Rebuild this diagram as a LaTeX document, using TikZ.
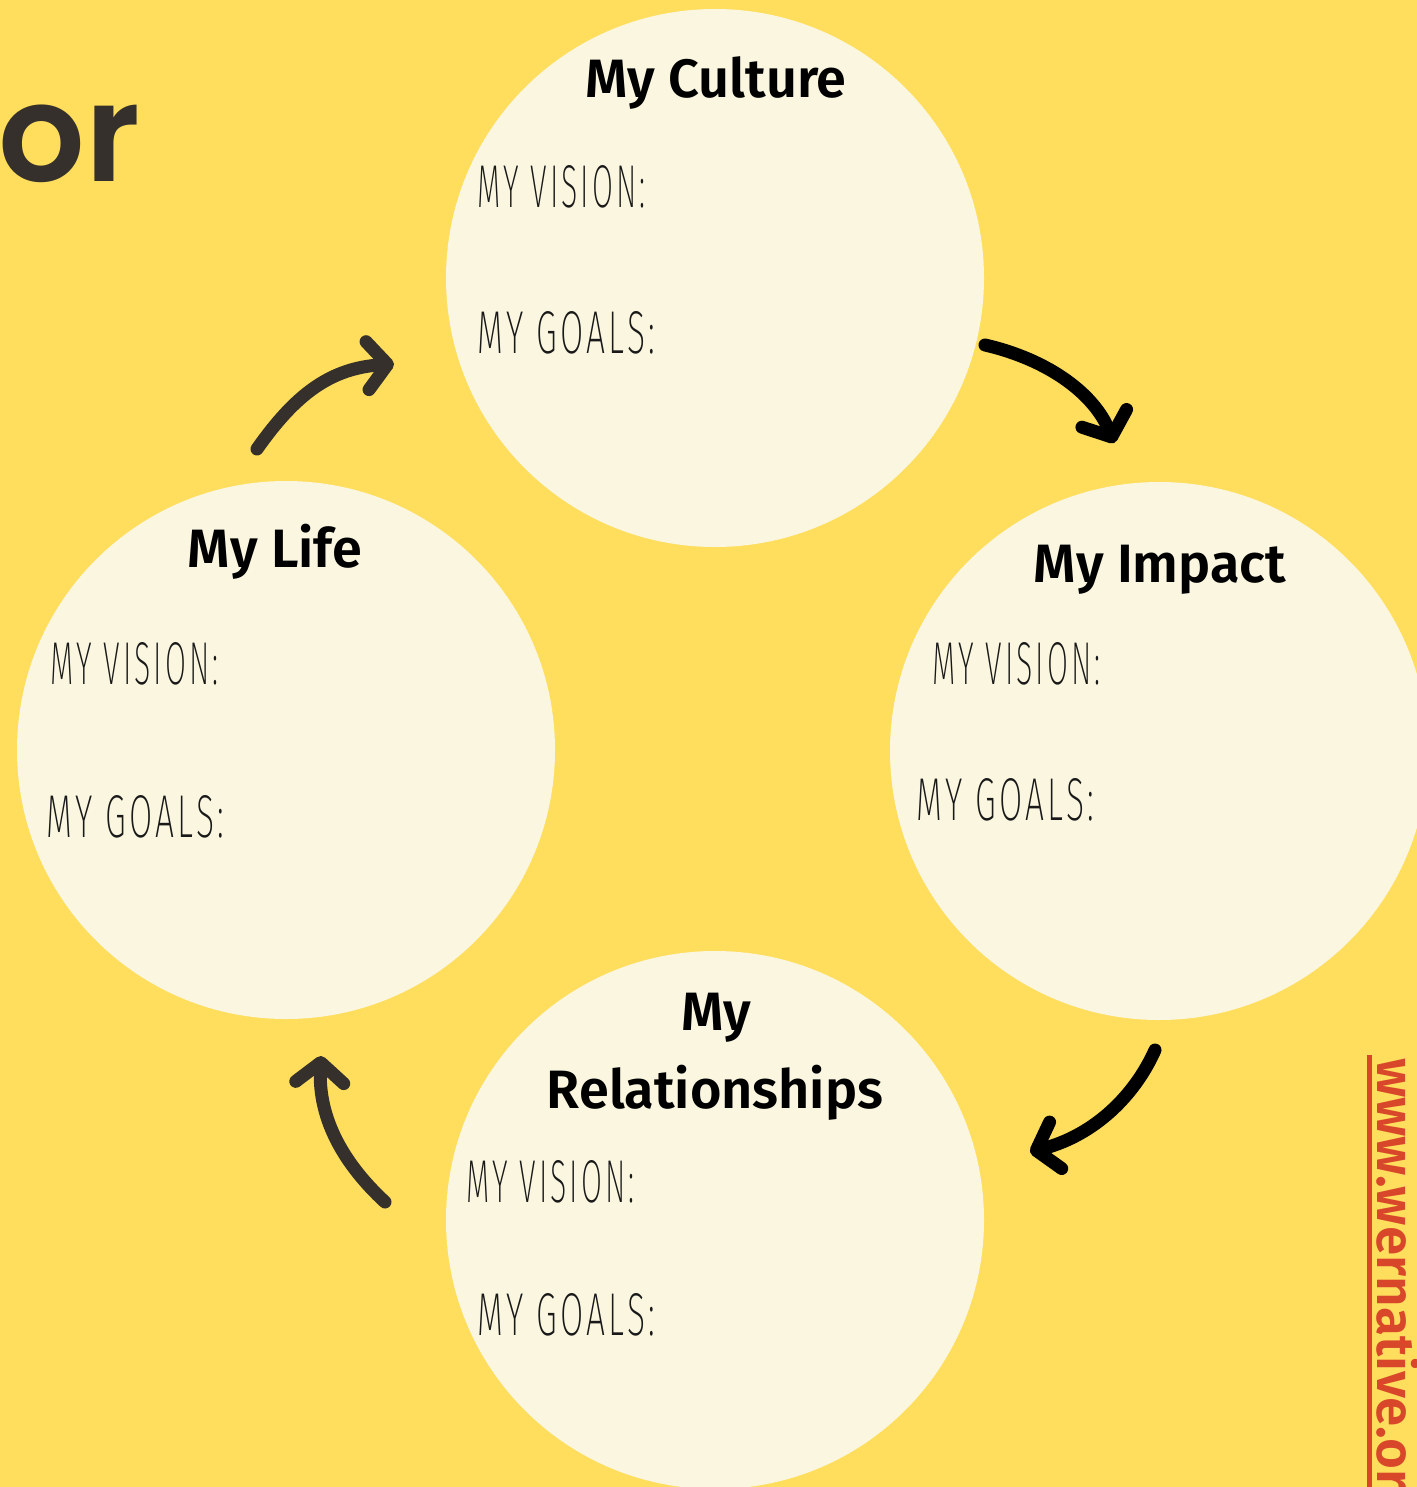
\documentclass[tikz,border=0pt]{standalone}
\usepackage{fontspec}
\usetikzlibrary{arrows.meta}
\setmainfont{Fira Sans}
\newfontfamily\thinfont{Fira Sans ExtraLight}[LetterSpace=10]
\newfontfamily\titlefont{Fira Sans SemiBold}
\newfontfamily\bigfont{Poppins SemiBold}
\definecolor{bg}{HTML}{FEDE5C}
\definecolor{cream}{HTML}{FAF6DF}
\definecolor{ink}{HTML}{35302B}
\definecolor{urlc}{HTML}{D9472B}
\tikzset{
  bubble/.style={circle, fill=cream, inner sep=0pt, minimum size=269pt},
  title/.style={font=\fontsize{27}{30}\titlefont, text=black, anchor=base, inner sep=0pt},
  label/.style={anchor=base west, inner sep=0pt, text=black!90},
  swoosh/.style={line width=6.5pt, line cap=round, -{Straight Barb[length=10pt,width=24pt,round]}},
}
\newcommand{\vis}{\resizebox{84pt}{21pt}{\thinfont MY VISION:}}
\newcommand{\gls}{\resizebox{89pt}{21pt}{\thinfont MY GOALS:}}
\begin{document}
\begin{tikzpicture}[x=0.5pt,y=-0.5pt]
\fill[bg] (0,0) rectangle (1417,1487);
\useasboundingbox (0,0) rectangle (1417,1487);
% big title fragment
\node[anchor=base east, inner sep=0pt, text=ink, font=\fontsize{68}{68}\bigfont] (for) at (141,182) {for};
% bubbles
\node[bubble] (culture) at (715,278) {};
\node[bubble] (life) at (286,750) {};
\node[bubble] (impact) at (1159,751) {};
\node[bubble] (rel) at (715,1220) {};
% titles
\node[title] (tculture) at (716,98) {My Culture};
\node[title] (tlife) at (275,567) {My Life};
\node[title] (timpact) at (1160,582) {My Impact};
\node[title] (tmy) at (716,1030) {My};
\node[title] (trel) at (715,1108) {Relationships};
% labels
\node[label] (v1) at (477,208) {\vis};
\node[label] (g1) at (477,353) {\gls};
\node[label] (v2) at (50,684) {\vis};
\node[label] (g2) at (46,837) {\gls};
\node[label] (v3) at (932,684) {\vis};
\node[label] (g3) at (916,820) {\gls};
\node[label] (v4) at (466,1202) {\vis};
\node[label] (g4) at (477,1335) {\gls};
% arrow end points
\coordinate (a1s) at (257,449);
\coordinate (a1e) at (394,364);
\coordinate (a2s) at (985,345);
\coordinate (a2e) at (1114,443);
\coordinate (a3s) at (1155,1050);
\coordinate (a3e) at (1030,1152);
\coordinate (a4s) at (385,1202);
\coordinate (a4e) at (321,1056);
\draw[swoosh, ink] (a1s) .. controls (295,395) and (330,368) .. (a1e);
\draw[swoosh, black] (a2s) .. controls (1050,360) and (1095,395) .. (a2e);
\draw[swoosh, black] (a3s) .. controls (1135,1095) and (1095,1135) .. (a3e);
\draw[swoosh, ink] (a4s) .. controls (345,1165) and (318,1120) .. (a4e);
% url
\node[rotate=-90, anchor=base west, inner sep=0pt, text=urlc, font=\fontsize{26.5}{26}\titlefont] (url) at (1377,1058) {www.wernative.org};
\draw[urlc, line width=2.5pt] (1369,1055) -- (1369,1487);
\end{tikzpicture}
\end{document}
